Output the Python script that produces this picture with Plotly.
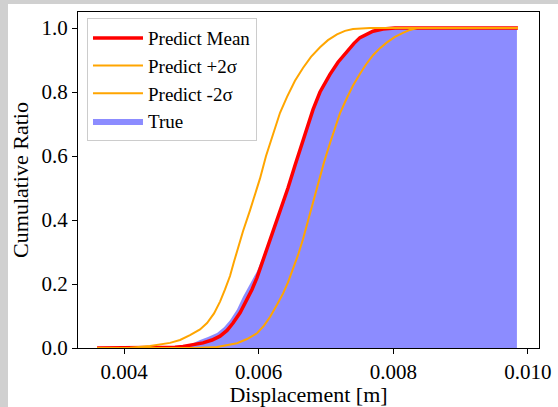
import plotly.graph_objects as go

# ---- data ----
x_plus = [0.003599, 0.004089, 0.004386, 0.004683, 0.004832, 0.004980, 0.005129, 0.005233,
          0.005337, 0.005426, 0.005500, 0.005574, 0.005634, 0.005693, 0.005767, 0.005871,
          0.005945, 0.006020, 0.006109, 0.006213, 0.006317, 0.006421, 0.006539, 0.006658,
          0.006777, 0.006911, 0.007029, 0.007163, 0.007282, 0.007401, 0.007534, 0.007653,
          0.009851]
y_plus = [0.0, 0.001, 0.006, 0.016, 0.025, 0.040, 0.058, 0.078,
          0.108, 0.145, 0.183, 0.225, 0.270, 0.316, 0.365, 0.430,
          0.480, 0.530, 0.600, 0.670, 0.735, 0.785, 0.835, 0.875,
          0.910, 0.940, 0.962, 0.980, 0.991, 0.997, 0.999, 1.0,
          1.0]

x_mean = [0.003599, 0.004535, 0.004757, 0.004876, 0.005025, 0.005173, 0.005307, 0.005426,
          0.005530, 0.005619, 0.005723, 0.005827, 0.005901, 0.005975, 0.006034, 0.006094,
          0.006153, 0.006213, 0.006317, 0.006435, 0.006539, 0.006643, 0.006732, 0.006807,
          0.006911, 0.007059, 0.007178, 0.007312, 0.007416, 0.007505, 0.007609, 0.007698,
          0.007846, 0.008024, 0.009851]
y_mean = [0.0, 0.0, 0.002, 0.005, 0.010, 0.016, 0.025, 0.037,
          0.055, 0.078, 0.110, 0.150, 0.183, 0.220, 0.255, 0.295,
          0.330, 0.365, 0.430, 0.500, 0.570, 0.640, 0.700, 0.745,
          0.800, 0.855, 0.893, 0.928, 0.952, 0.970, 0.982, 0.990,
          0.997, 1.0, 1.0]

x_minus = [0.003599, 0.005054, 0.005381, 0.005530, 0.005678, 0.005827, 0.005975, 0.006079,
           0.006168, 0.006272, 0.006361, 0.006435, 0.006510, 0.006584, 0.006658, 0.006762,
           0.006881, 0.006970, 0.007059, 0.007133, 0.007208, 0.007312, 0.007401, 0.007505,
           0.007594, 0.007698, 0.007802, 0.007906, 0.008024, 0.008143, 0.008247, 0.008351,
           0.009851]
y_minus = [0.0, 0.0, 0.003, 0.008, 0.015, 0.028, 0.046, 0.070,
           0.097, 0.135, 0.170, 0.205, 0.245, 0.290, 0.340, 0.420,
           0.515, 0.580, 0.640, 0.690, 0.734, 0.782, 0.820, 0.857,
           0.886, 0.915, 0.937, 0.955, 0.972, 0.985, 0.994, 1.0,
           1.0]

x_true = [0.004683, 0.004876, 0.005010, 0.005129, 0.005247, 0.005381, 0.005485, 0.005574,
          0.005678, 0.005767, 0.005871, 0.005975, 0.006034, 0.006094, 0.006153, 0.006213,
          0.006317, 0.006435, 0.006539, 0.006643, 0.006732, 0.006807, 0.006911, 0.007059,
          0.007178, 0.007312, 0.007416, 0.007505, 0.007609, 0.007698, 0.007802, 0.007876,
          0.009836]
y_true = [0.0, 0.004, 0.013, 0.025, 0.034, 0.047, 0.065, 0.087,
          0.120, 0.160, 0.200, 0.240, 0.270, 0.300, 0.330, 0.365,
          0.430, 0.500, 0.570, 0.640, 0.700, 0.745, 0.800, 0.855,
          0.893, 0.928, 0.952, 0.970, 0.982, 0.990, 0.997, 1.0,
          1.0]

x_ticks = [0.004, 0.006, 0.008, 0.010]
x_ticklabels = ["0.004", "0.006", "0.008", "0.010"]
y_ticks = [0.0, 0.2, 0.4, 0.6, 0.8, 1.0]
y_ticklabels = ["0.0", "0.2", "0.4", "0.6", "0.8", "1.0"]

FONT = "Times New Roman, Liberation Serif, Tinos, serif"

fig = go.Figure()
fig.add_trace(go.Scatter(x=x_true, y=y_true, mode="lines", fill="tozeroy",
                         fillcolor="rgba(0,0,255,0.45)", line=dict(width=0, color="rgba(0,0,255,0.45)"),
                         name="True", legendgroup="d", legendrank=4))
fig.add_trace(go.Scatter(x=x_mean, y=y_mean, mode="lines", line=dict(color="#ff0000", width=3.5),
                         name="Predict Mean", legendgroup="a", legendrank=1))
fig.add_trace(go.Scatter(x=x_plus, y=y_plus, mode="lines", line=dict(color="#ffa500", width=2),
                         name="Predict +2σ", legendgroup="b", legendrank=2))
fig.add_trace(go.Scatter(x=x_minus, y=y_minus, mode="lines", line=dict(color="#ffa500", width=2),
                         name="Predict -2σ", legendgroup="c", legendrank=3))

W, H = 558, 407
L, R, T, B = 78, 19, 12, 59
pw, ph = W - L - R, H - T - B

shapes = [
    dict(type="rect", xref="paper", yref="paper", x0=-L / pw, x1=(8 - L) / pw,
         y0=-B / ph, y1=1 + T / ph, fillcolor="#d0d0d0", line=dict(width=0), layer="below"),
    dict(type="rect", xref="paper", yref="paper", x0=-L / pw, x1=1 + R / pw,
         y0=1 + (T - 4) / ph, y1=1 + T / ph, fillcolor="#d0d0d0", line=dict(width=0), layer="below"),
]

fig.update_layout(
    width=W, height=H,
    margin=dict(l=L, r=R, t=T, b=B, pad=0, autoexpand=False),
    paper_bgcolor="white", plot_bgcolor="white",
    font=dict(family=FONT, size=21, color="black"),
    shapes=shapes,
    showlegend=True,
    legend=dict(x=0.0195, y=0.982, xanchor="left", yanchor="top",
                bgcolor="rgba(255,255,255,0.8)", bordercolor="#cccccc", borderwidth=1,
                font=dict(family=FONT, size=19, color="black"),
                tracegroupgap=4, itemwidth=50, traceorder="normal"),
)
fig.update_xaxes(range=[0.003316, 0.010164], tickvals=x_ticks, ticktext=x_ticklabels,
                 automargin=False, tickfont=dict(family=FONT, size=21),
                 showgrid=False, zeroline=False, showline=True, linecolor="black", linewidth=1.2,
                 mirror=True, ticks="outside", ticklen=5, tickwidth=1.2, tickcolor="black",
                 title=dict(text="Displacement [m]", font=dict(family=FONT, size=22), standoff=3))
fig.update_yaxes(range=[0.0, 1.05], tickvals=y_ticks, ticktext=y_ticklabels,
                 automargin=False, tickfont=dict(family=FONT, size=21),
                 showgrid=False, zeroline=False, showline=True, linecolor="black", linewidth=1.2,
                 mirror=True, ticks="outside", ticklen=5, tickwidth=1.2, tickcolor="black",
                 title=dict(text="Cumulative Ratio", font=dict(family=FONT, size=22), standoff=6))

fig.write_html("out.html")
